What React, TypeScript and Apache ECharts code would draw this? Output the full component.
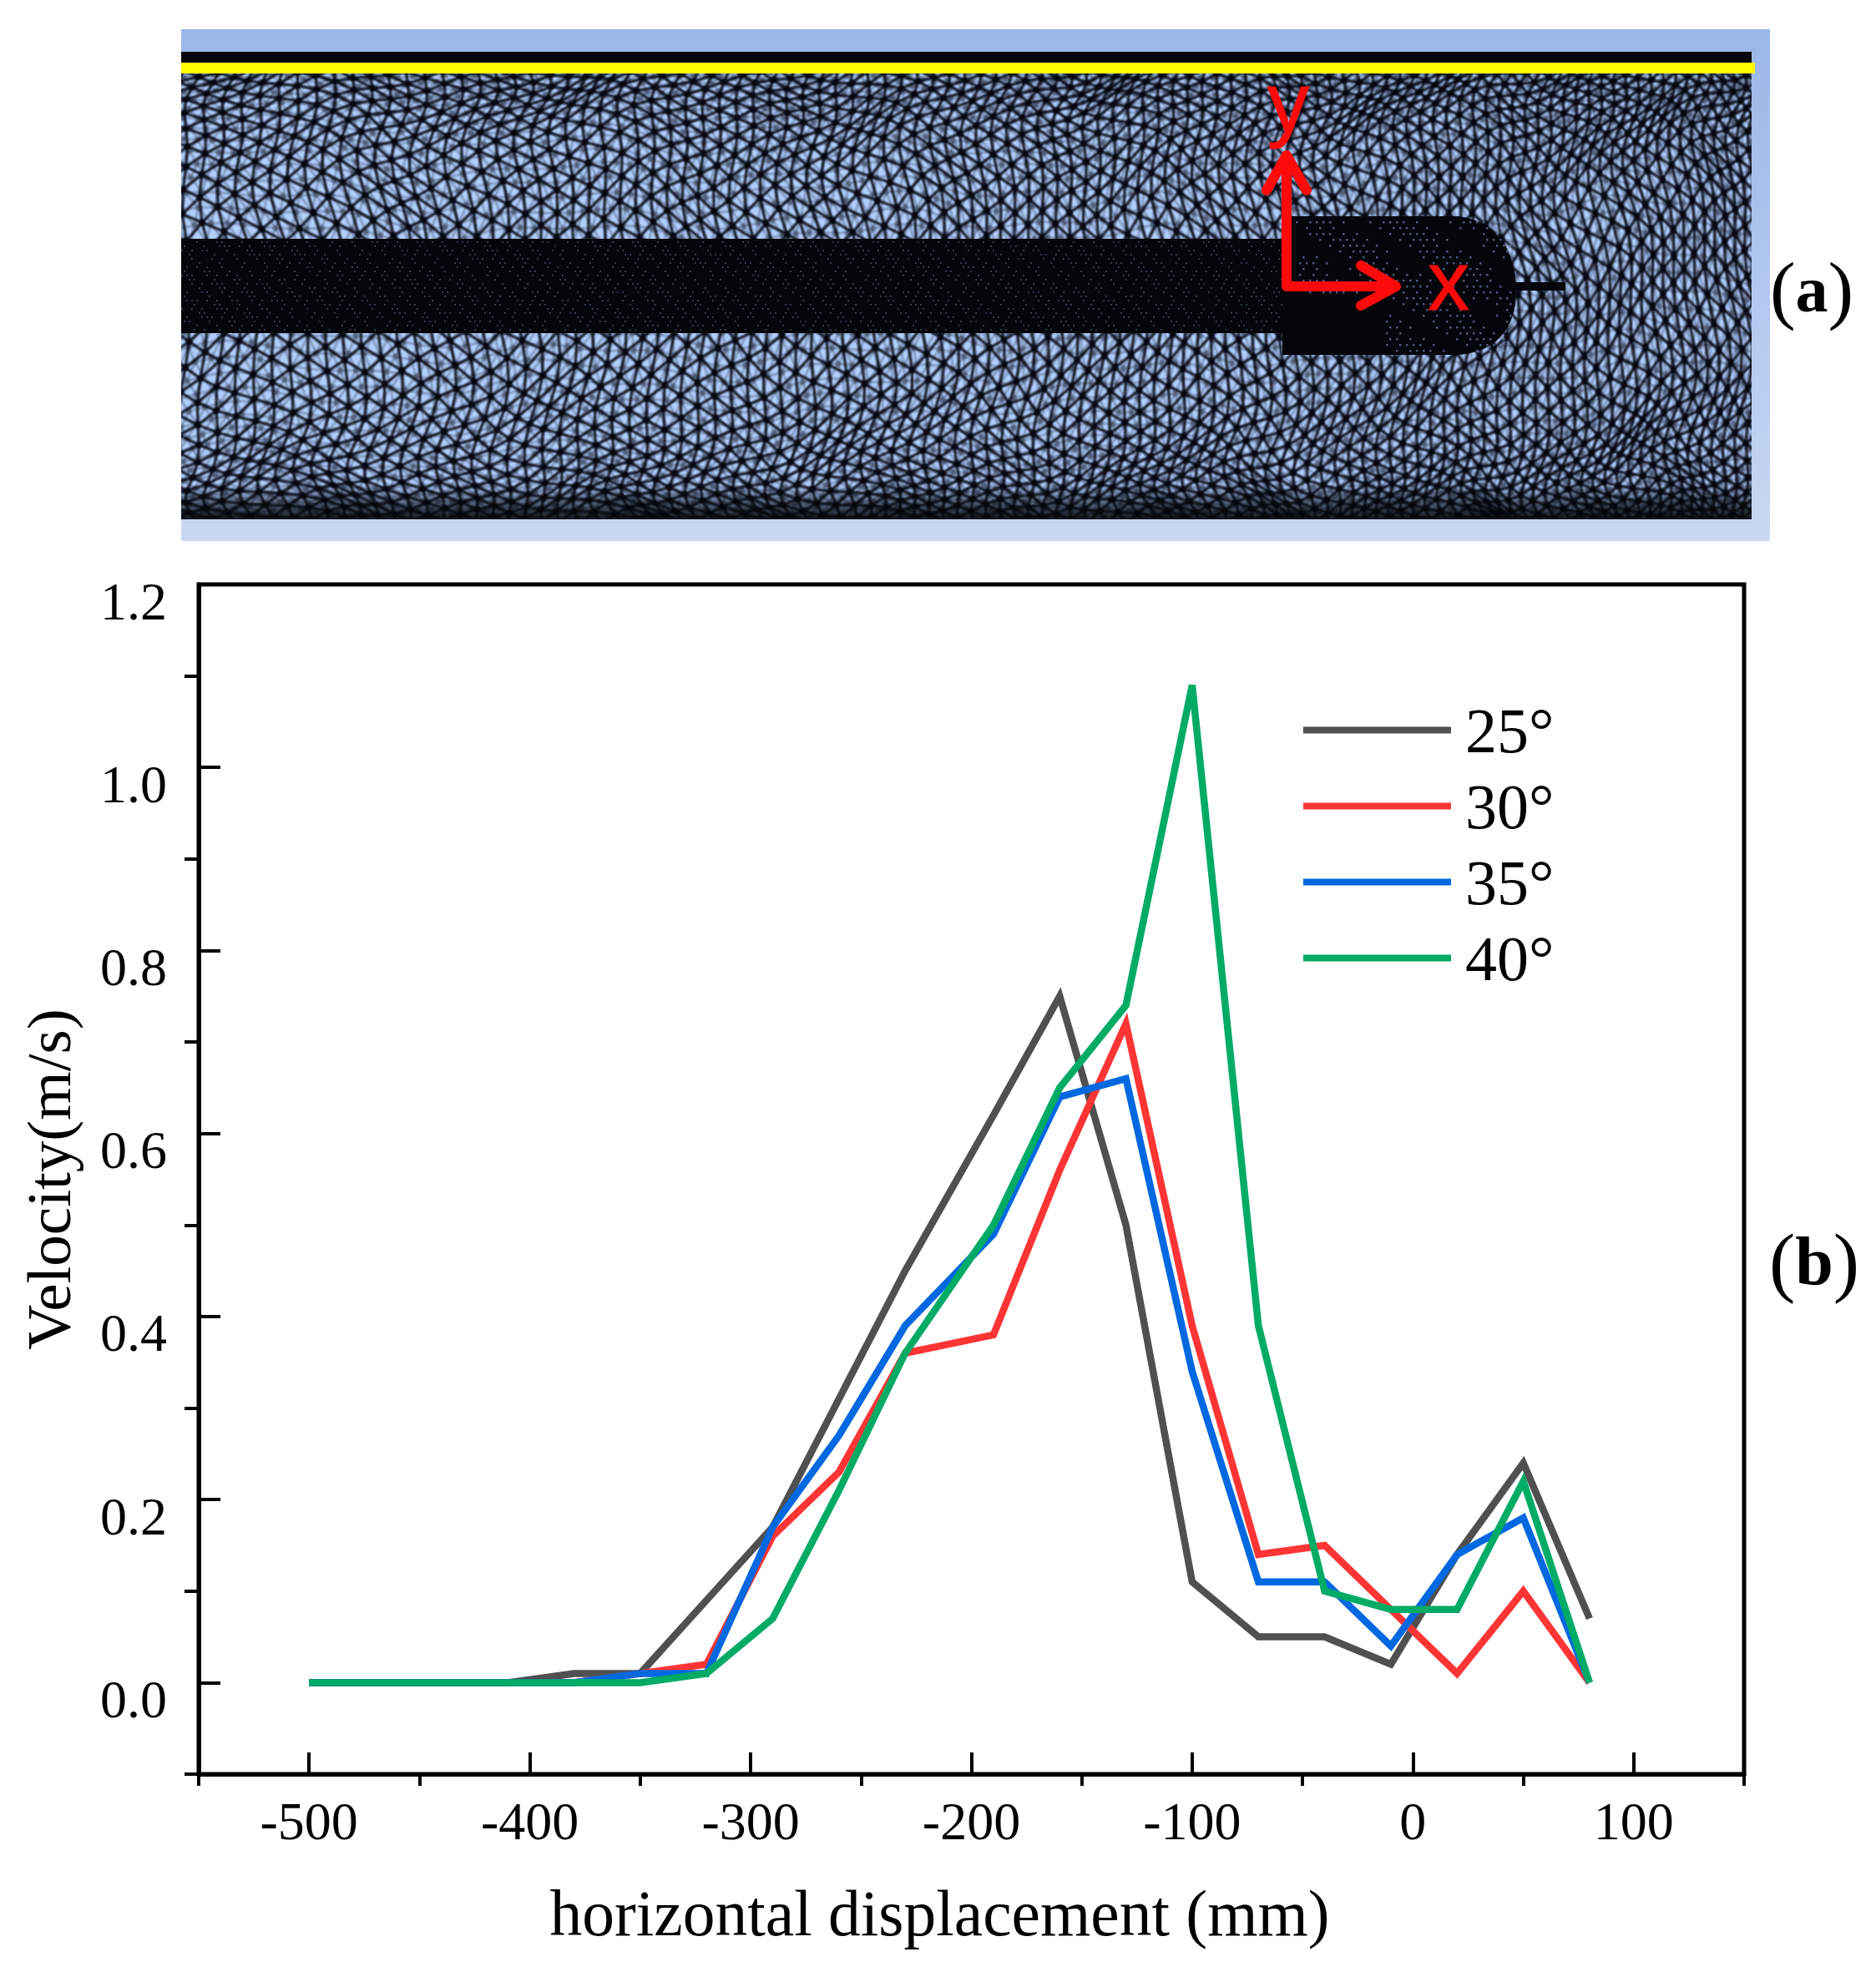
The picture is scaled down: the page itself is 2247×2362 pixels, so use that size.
import React, { useEffect, useRef } from "react";
import * as echarts from "echarts";

const xValues = [-500, -470, -440, -410, -380, -350, -320, -290, -260, -230, -190, -160, -130, -100, -70, -40, -10, 20, 50, 80];
const seriesNames = ["25°", "30°", "35°", "40°"];
const seriesColors = ["#505050", "#FF3535", "#0068E0", "#00AB66"];
const values25 = [0, 0, 0, 0, 0.01, 0.01, 0.09, 0.17, 0.31, 0.45, 0.62, 0.75, 0.5, 0.11, 0.05, 0.05, 0.02, 0.14, 0.24, 0.07];
const values30 = [0, 0, 0, 0, 0, 0.01, 0.02, 0.16, 0.23, 0.36, 0.38, 0.56, 0.72, 0.39, 0.14, 0.15, 0.08, 0.01, 0.1, 0];
const values35 = [0, 0, 0, 0, 0, 0.01, 0.01, 0.17, 0.27, 0.39, 0.49, 0.64, 0.66, 0.34, 0.11, 0.11, 0.04, 0.14, 0.18, 0];
const values40 = [0, 0, 0, 0, 0, 0, 0.01, 0.07, 0.21, 0.36, 0.5, 0.65, 0.74, 1.09, 0.39, 0.1, 0.08, 0.08, 0.22, 0];
const allValues = [values25, values30, values35, values40];
const xMajorTicks = [-500, -400, -300, -200, -100, 0, 100];
const xMinorTicks = [-550, -450, -350, -250, -150, -50, 50, 150];
const yMajorTicks = [0, 0.2, 0.4, 0.6, 0.8, 1.0, 1.2];
const yMinorTicks = [-0.1, 0.1, 0.3, 0.5, 0.7, 0.9, 1.1];

const SERIF = "'Liberation Serif', 'Times New Roman', serif";
const SANS = "'Liberation Sans', Arial, sans-serif";

// A single seamless triangular mesh, bent by a smooth field so its cells turn from place to place.
function warpedMesh(ctx: CanvasRenderingContext2D, s: number, angle: number, phase: number, yStart: number, yEnd: number) {
  const ca = Math.cos(angle);
  const sa = Math.sin(angle);
  const rowH = (s * Math.sqrt(3)) / 2;
  const nI = Math.ceil(1500 / s);
  const nJ = Math.ceil(1500 / rowH);
  const pt = (i: number, j: number): [number, number] => {
    const a = (i + (j % 2 ? 0.5 : 0)) * s;
    const b = j * rowH;
    const X = 1050 + a * ca - b * sa;
    const Y = 310 + a * sa + b * ca;
    const X2 = X * 1.1 - 0.0001047 * X * X;
    const v = (Y - 40) / 547;
    const Y2 = 40 + 547 * (v - (0.42 * Math.sin(2 * Math.PI * v)) / (2 * Math.PI));
    return [
      X2 + 11 * Math.sin(Y * 0.019 + 1 + phase) + 6 * Math.sin(Y * 0.043 + X * 0.011 + phase),
      Y2 + 10 * Math.sin(X * 0.017 + 2 + phase) + 5 * Math.sin(X * 0.037 - Y * 0.013 + phase),
    ];
  };
  const vis = (p: [number, number]) => p[0] > -40 && p[0] < 1930 && p[1] > yStart && p[1] < yEnd;
  ctx.beginPath();
  for (let j = -nJ; j <= nJ; j++) {
    const off = Math.abs(j % 2);
    for (let i = -nI; i <= nI; i++) {
      const a = pt(i, j);
      if (!vis(a)) continue;
      const b = pt(i + 1, j);
      const c = pt(i + off, j + 1);
      const d = pt(i + off - 1, j + 1);
      ctx.moveTo(a[0], a[1]); ctx.lineTo(b[0], b[1]);
      ctx.moveTo(a[0], a[1]); ctx.lineTo(c[0], c[1]);
      ctx.moveTo(a[0], a[1]); ctx.lineTo(d[0], d[1]);
    }
  }
  ctx.stroke();
  ctx.beginPath();
  for (let j = -nJ; j <= nJ; j++) {
    for (let i = -nI; i <= nI; i++) {
      const a = pt(i, j);
      if (!vis(a)) continue;
      ctx.moveTo(a[0] + 3.6, a[1]);
      ctx.arc(a[0], a[1], 3.6, 0, Math.PI * 2);
    }
  }
  ctx.fill();
}

function meshImage(): string {
  const w = 1903;
  const h = 613;
  const mw = 1881;
  const cv = document.createElement("canvas");
  cv.width = w;
  cv.height = h;
  const ctx = cv.getContext("2d") as CanvasRenderingContext2D;
  const g = ctx.createLinearGradient(0, 0, 0, h);
  g.addColorStop(0, "#9BB7E8");
  g.addColorStop(1, "#C8D8F2");
  ctx.fillStyle = g;
  ctx.fillRect(0, 0, w, h);

  ctx.save();
  ctx.beginPath();
  ctx.rect(0, 27, mw, 560);
  ctx.clip();
  ctx.fillStyle = "#B2CEFC";
  ctx.fillRect(0, 27, mw, 560);
  ctx.filter = "blur(1.2px)";
  ctx.strokeStyle = "#070a14";
  ctx.fillStyle = "#070a14";
  ctx.lineWidth = 3;
  warpedMesh(ctx, 23, 0.5, 0, -60, 680);
  ctx.globalAlpha = 0.35;
  ctx.lineWidth = 2.2;
  warpedMesh(ctx, 17, 1.05, 1.4, -60, 680);
  ctx.globalAlpha = 1;
  ctx.filter = "none";

  // dense rod and head of the nozzle
  ctx.fillStyle = "#04060b";
  ctx.fillRect(0, 251, 1325, 113);
  ctx.beginPath();
  ctx.moveTo(1319, 224);
  ctx.lineTo(1530, 224);
  ctx.quadraticCurveTo(1588, 232, 1598, 296);
  ctx.lineTo(1598, 330);
  ctx.quadraticCurveTo(1588, 385, 1530, 390);
  ctx.lineTo(1319, 390);
  ctx.closePath();
  ctx.fill();
  ctx.fillRect(1596, 303, 62, 10);
  // dim specks of the fine mesh inside the dense regions
  ctx.fillStyle = "rgba(110,130,175,0.42)";
  for (let y = 254; y < 362; y += 5) {
    for (let x = (y % 2) * 3; x < 1320; x += 6) {
      const s = Math.sin(x * 0.41 + y * 0.73) * Math.sin(x * 0.17 - y * 0.29);
      if (s > 0.15) ctx.fillRect(x, y, 2, 2);
    }
  }
  ctx.fillStyle = "rgba(125,145,190,0.6)";
  for (let y = 230; y < 386; y += 7) {
    for (let x = 1335 + (y % 2) * 4; x < 1592; x += 8) {
      if (x < 1440 && y > 320) continue;
      const s = Math.sin(x * 0.53 + y * 0.91) * Math.sin(x * 0.19 - y * 0.37);
      if (s > 0.05) ctx.fillRect(x, y, 2.5, 2.5);
    }
  }
  // dark walls of the domain
  ctx.fillStyle = "#04060a";
  ctx.fillRect(0, 27, mw, 18);
  const fade = ctx.createLinearGradient(0, 545, 0, 587);
  fade.addColorStop(0, "rgba(4,6,10,0)");
  fade.addColorStop(1, "rgba(4,6,10,0.9)");
  ctx.fillStyle = fade;
  ctx.fillRect(0, 545, mw, 42);
  ctx.restore();

  ctx.fillStyle = "#FFFF00";
  ctx.fillRect(0, 40, 1885, 13);
  return cv.toDataURL("image/png");
}

export default function App() {
  const ref = useRef<HTMLDivElement>(null);
  useEffect(() => {
    if (!ref.current) return;
    const chart = echarts.init(ref.current, undefined, { renderer: "svg" });
    const red = "#FF0A0A";
    const arrowStyle = { stroke: red, lineWidth: 12, fill: "none", lineCap: "round", lineJoin: "round" };
    const parenRich = (p: number, b: number) => ({
      p: { fontFamily: SERIF, fontSize: p, fill: "#000", color: "#000" },
      b: { fontFamily: SERIF, fontSize: b, fontWeight: "bold", fill: "#000", color: "#000" },
    });
    chart.setOption({
      animation: false,
      backgroundColor: "#fff",
      color: seriesColors,
      grid: {
        show: true, left: 238, right: 158, top: 700, bottom: 237,
        borderColor: "#000", borderWidth: 5, containLabel: false,
      },
      legend: {
        left: 1556, top: 824, orient: "vertical", itemGap: 0,
        icon: "rect", itemWidth: 177, itemHeight: 8,
        data: seriesNames,
        textStyle: {
          fontFamily: SERIF, fontSize: 76, lineHeight: 91, color: "#000", padding: [0, 0, 0, 12],
        },
      },
      xAxis: [
        {
          type: "value", min: -550, max: 150, position: "bottom",
          splitLine: { show: false },
          axisLine: { show: true, onZero: false, lineStyle: { color: "#000", width: 5 } },
          axisTick: { show: true, inside: true, length: 26, customValues: xMajorTicks, lineStyle: { color: "#000", width: 4 } },
          axisLabel: { customValues: xMajorTicks, margin: 24, fontFamily: SERIF, fontSize: 64, color: "#000", formatter: (v: number) => String(v) },
          name: "horizontal displacement (mm)", nameLocation: "middle", nameGap: 128,
          nameTextStyle: { fontFamily: SERIF, fontSize: 77.5, color: "#000", padding: [0, 76, 0, 0] },
        },
        {
          type: "value", min: -550, max: 150, position: "bottom",
          splitLine: { show: false },
          axisLine: { show: false, onZero: false },
          axisTick: { show: true, inside: false, length: 14, customValues: xMinorTicks, lineStyle: { color: "#000", width: 4 } },
          axisLabel: { show: false },
        },
      ],
      yAxis: [
        {
          type: "value", min: -0.1, max: 1.2, position: "left",
          splitLine: { show: false },
          axisLine: { show: true, onZero: false, lineStyle: { color: "#000", width: 5 } },
          axisTick: { show: true, inside: true, length: 26, customValues: yMajorTicks, lineStyle: { color: "#000", width: 4 } },
          axisLabel: {
            customValues: yMajorTicks, margin: 38, fontFamily: SERIF, fontSize: 64, color: "#000",
            formatter: (v: number) => v.toFixed(1), verticalAlign: "top", lineHeight: 40,
          },
          name: "Velocity(m/s)", nameLocation: "middle", nameGap: 142, nameRotate: 90,
          nameTextStyle: { fontFamily: SERIF, fontSize: 75, color: "#000" },
        },
        {
          type: "value", min: -0.1, max: 1.2, position: "left",
          splitLine: { show: false },
          axisLine: { show: false, onZero: false },
          axisTick: { show: true, inside: false, length: 17, customValues: yMinorTicks, lineStyle: { color: "#000", width: 4 } },
          axisLabel: { show: false },
        },
      ],
      series: seriesNames.map((name, k) => ({
        name, type: "line", symbol: "none", showSymbol: false, xAxisIndex: 0, yAxisIndex: 0,
        itemStyle: { color: seriesColors[k] },
        lineStyle: { color: seriesColors[k], width: 8.5, join: "miter", cap: "butt" },
        data: xValues.map((x, i) => [x, allValues[k][i]]),
      })),
      graphic: [
        { type: "image", x: 217, y: 35, z: 1, style: { image: meshImage(), x: 0, y: 0, width: 1903, height: 613 } },
        { type: "polyline", z: 2, shape: { points: [[1541, 192], [1541, 343], [1668, 343]] }, style: arrowStyle },
        { type: "polyline", z: 2, shape: { points: [[1517, 228], [1541, 186], [1565, 228]] }, style: arrowStyle },
        { type: "polyline", z: 2, shape: { points: [[1630, 318], [1672, 343], [1630, 366]] }, style: arrowStyle },
        { type: "text", z: 3, x: 1543, y: 122, style: { text: "y", fontFamily: SANS, fontSize: 100, fill: red, stroke: red, lineWidth: 1, align: "center", verticalAlign: "middle" } },
        { type: "text", z: 3, x: 1735, y: 336, style: { text: "x", fontFamily: SANS, fontSize: 100, fill: red, stroke: red, lineWidth: 1, align: "center", verticalAlign: "middle" } },
        { type: "text", z: 3, x: 2170, y: 346, style: { text: "{p|(}{b|a}{p|)}", rich: parenRich(92, 78), align: "center", verticalAlign: "middle" } },
        { type: "text", z: 3, x: 2173, y: 1510, style: { text: "{p|(}{b|b}{p|)}", rich: parenRich(94, 82), align: "center", verticalAlign: "middle" } },
      ],
    });
    return () => chart.dispose();
  }, []);
  return <div ref={ref} style={{ position: "absolute", left: 0, top: 0, width: 2247, height: 2362 }} />;
}
